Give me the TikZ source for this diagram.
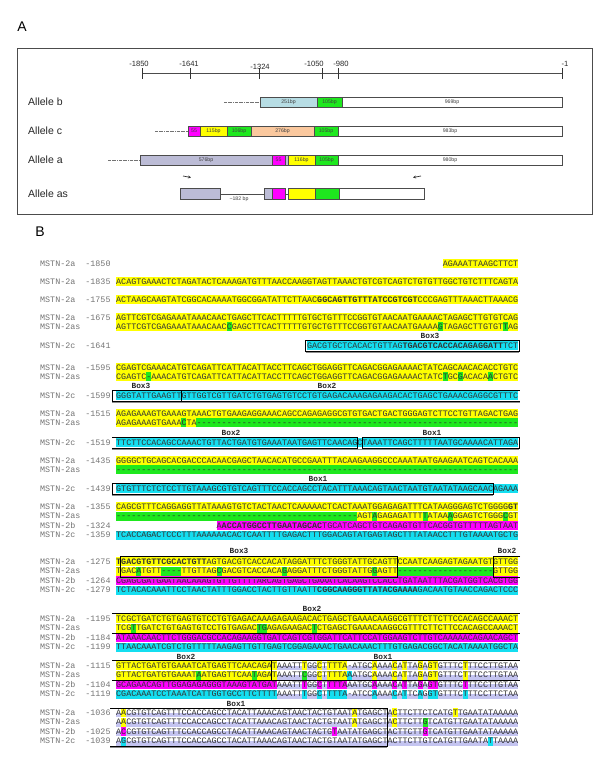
\documentclass[tikz,border=0pt]{standalone}
\usepackage{fontspec}
\usetikzlibrary{arrows.meta}
\setmainfont{Liberation Sans}
\setmonofont{Liberation Mono}
\definecolor{hy}{RGB}{255,255,0}
\definecolor{hg}{RGB}{30,232,30}
\definecolor{hc}{RGB}{20,222,240}
\definecolor{hm}{RGB}{255,0,255}
\definecolor{lav}{RGB}{188,188,214}
\definecolor{lavu}{RGB}{196,196,240}
\definecolor{lblue}{RGB}{183,221,228}
\definecolor{peach}{RGB}{250,200,158}
\newcounter{nn}
\newcommand\seqf{\ttfamily\fontsize{8.375}{9}\selectfont}
\newcommand\hlx[4]{\fill[#4] ({116+(#2-1)*5.025},{#1-4.7}) rectangle ({116+#3*5.025},{#1+4.3});}
\newcommand\hlp[3]{\foreach \p in {#3} {\hlx{#1}{\p}{\p}{#2}}}
\newcommand\ulband[3]{\fill[lavu] ({116+(#2-1)*5.025},{#1-0.5}) rectangle ({116+#3*5.025},{#1+4.3});}
\newcommand\sq[3]{\stepcounter{nn}\node[seqn] (s\arabic{nn}) at ({116+(#2-1)*5.025},{#1+2.5}) {#3};}
\newcommand\lab[3]{\stepcounter{nn}\node[labn] (l\arabic{nn}) at (40,{#1+2.5}) {#2};\stepcounter{nn}\node[labn] (m\arabic{nn}) at (85.2,{#1+2.5}) {#3};}
\newcommand\boxlab[3]{\stepcounter{nn}\node[boxl] (b\arabic{nn}) at (#2,#1) {#3};}
\newcommand\segbar[6]{\stepcounter{nn}\draw[bord,fill=#4] (#1,{#3-#5}) rectangle (#2,{#3+#5});\node[barl] (r\arabic{nn}) at ({(#1+#2)/2},#3) {#6};}
\begin{document}
\begin{tikzpicture}[x=1pt,y=-1pt,
  seqn/.style={anchor=base west,inner sep=0,font=\seqf,text=black!80},
  labn/.style={anchor=base west,inner sep=0,font=\seqf,text=black!55},
  boxl/.style={inner sep=0,font=\ttfamily\bfseries\fontsize{7.8}{8}\selectfont,text=black!85},
  bord/.style={draw=black!70,line width=0.6pt},
  barl/.style={inner sep=0,font=\fontsize{5.2}{5.5}\selectfont,text=black!75},
  allele/.style={anchor=west,inner sep=0,font=\fontsize{10.5}{11}\selectfont,text=black!85},
  tickl/.style={inner sep=0,font=\fontsize{7.6}{8}\selectfont,text=black!85},
  lead/.style={black!55,densely dash dot,line width=0.5pt},
  bx/.style={black,line width=0.7pt},
  bxs/.style={black!45,line width=1pt}]
\useasboundingbox (0,0) rectangle (600,761);
% ---------------- Panel A ----------------
\node[font=\fontsize{14}{14}\selectfont] (lA) at (22,27) {A};
\draw[black!70,line width=0.8pt] (17,48) rectangle (592,214);
\draw[black!70,line width=1pt] (142,73) -- (562,73);
\foreach \t in {142,190,259,322,338,562} {\draw[black!80,line width=0.8pt] (\t,68) -- (\t,79);}
\node[tickl] (t1) at (139,64) {-1850};
\node[tickl] (t2) at (189,64) {-1641};
\node[tickl] (t3) at (260,67) {-1324};
\node[tickl] (t4) at (314,64) {-1050};
\node[tickl] (t5) at (341,64) {-980};
\node[tickl] (t6) at (565,64) {-1};
\node[allele] (ab) at (28,102) {Allele b};
\node[allele] (ac) at (28,131) {Allele c};
\node[allele] (aa) at (28,160) {Allele a};
\node[allele] (aas) at (28,194) {Allele as};
% allele b
\draw[lead] (224,102) -- (259,102);
\segbar{260}{317}{102}{lblue}{5}{251bp}
\segbar{317}{342}{102}{hg}{5}{105bp}
\segbar{342}{562}{102}{white}{5}{969bp}
% allele c
\draw[lead] (155,131) -- (188,131);
\segbar{188}{200}{131}{hm}{5}{55}
\segbar{200}{227}{131}{hy}{5}{115bp}
\segbar{227}{251}{131}{hg}{5}{106bp}
\segbar{251}{314}{131}{peach}{5}{276bp}
\segbar{314}{338}{131}{hg}{5}{105bp}
\segbar{338}{562}{131}{white}{5}{983bp}
% allele a
\draw[lead] (108,160) -- (140,160);
\segbar{140}{272}{160}{lav}{5}{576bp}
\segbar{272}{285}{160}{hm}{5}{55}
\segbar{285}{288}{160}{lav}{5}{}
\segbar{288}{315}{160}{hy}{5}{116bp}
\segbar{315}{338}{160}{hg}{5}{105bp}
\segbar{338}{562}{160}{white}{5}{980bp}
% allele as
\coordinate (ar1a) at (183,176); \coordinate (ar1b) at (191,177.5);
\coordinate (ar2a) at (421,176); \coordinate (ar2b) at (413,177.5);
\draw[black!80,line width=0.7pt,-{Stealth[length=3pt,width=3pt]}] (ar1a) -- (ar1b);
\draw[black!80,line width=0.7pt,-{Stealth[length=3pt,width=3pt]}] (ar2a) -- (ar2b);
\draw[black!70,line width=0.8pt] (220,194) -- (264,194);
\draw[black!70,line width=0.8pt] (285,194) -- (288,194);
\segbar{180}{220}{194}{lav}{5.5}{}
\segbar{264}{272}{194}{lav}{5.5}{}
\segbar{272}{285}{194}{hm}{5.5}{}
\segbar{288}{315}{194}{hy}{5.5}{}
\segbar{315}{339}{194}{hg}{5.5}{}
\segbar{339}{424}{194}{white}{5.5}{}
\node[barl] (n182) at (239,199.5) {\textasciitilde182 bp};
% ---------------- Panel B ----------------
\node[font=\fontsize{14}{14}\selectfont] (lB) at (40,232) {B};
% highlights
\hlx{264}{66}{80}{hy}
\hlx{282}{1}{80}{hy}
\hlx{300}{1}{80}{hy}
\hlx{318}{1}{80}{hy}
\hlx{327}{1}{80}{hy}\hlp{327}{hg}{23,65,78}
\hlx{346}{39}{80}{hc}
\hlx{368}{1}{80}{hy}
\hlx{377}{1}{80}{hy}\hlp{377}{hg}{7,66,69,75}
\hlx{396}{1}{80}{hc}
\hlx{414}{1}{80}{hy}
\hlx{423}{1}{16}{hy}\hlp{423}{hg}{14}\hlx{423}{17}{80}{hg}
\hlx{443}{1}{80}{hc}
\hlx{461}{1}{80}{hy}
\hlx{470}{1}{80}{hg}
\hlx{489}{1}{80}{hc}
\hlx{507}{1}{80}{hy}
\hlx{516.4}{1}{48}{hg}\hlx{516.4}{49}{80}{hy}\hlp{516.4}{hg}{52,62,67,78}
\hlx{525.8}{21}{80}{hm}
\hlx{535.2}{1}{80}{hc}
\hlx{562}{1}{80}{hy}
\hlx{571.4}{1}{80}{hy}\hlp{571.4}{hg}{5,21,34,52}\hlx{571.4}{10}{13}{hg}\hlx{571.4}{57}{75}{hg}
\hlx{580.8}{1}{80}{hm}
\hlx{590.2}{1}{80}{hc}
\hlx{619}{1}{80}{hy}
\hlx{628.4}{1}{80}{hy}\hlp{628.4}{hg}{4,29,30,40}
\hlx{637.8}{1}{80}{hm}
\hlx{647.2}{1}{80}{hc}
\hlx{666}{1}{31}{hy}\ulband{666}{32}{80}\hlp{666}{hy}{32,38,41,43,44,45,46,52,56,58,61,63,64,70}
\hlx{675.4}{1}{31}{hy}\hlp{675.4}{hg}{17,28}\ulband{675.4}{32}{80}\hlp{675.4}{hy}{32,41,43,44,45,46,52,56,58,61,63,64,70}\hlp{675.4}{hg}{38}\hlp{675.4}{hc}{47}
\hlx{684.8}{1}{31}{hm}\ulband{684.8}{32}{80}\hlp{684.8}{hm}{32,38,41,43,44,45,46,52,56,58,61,63,64,70}
\hlx{694.2}{1}{31}{hc}\ulband{694.2}{32}{80}\hlp{694.2}{hc}{32,38,41,43,44,45,46,52,56,58,61,63,64,70}
\ulband{713}{1}{80}\hlp{713}{hy}{2,48,56,68}
\ulband{722.4}{1}{80}\hlp{722.4}{hy}{2,48,56}\hlp{722.4}{hg}{62}
\ulband{731.8}{1}{80}\hlp{731.8}{hm}{2,44,62}
\ulband{741.2}{1}{80}\hlp{741.2}{hc}{2,75}
% labels
\lab{264}{MSTN-2a}{-1850}
\lab{282}{MSTN-2a}{-1835}
\lab{300}{MSTN-2a}{-1755}
\lab{318}{MSTN-2a}{-1675}
\lab{327}{MSTN-2as}{}
\lab{346}{MSTN-2c}{-1641}
\lab{368}{MSTN-2a}{-1595}
\lab{377}{MSTN-2as}{}
\lab{396}{MSTN-2c}{-1599}
\lab{414}{MSTN-2a}{-1515}
\lab{423}{MSTN-2as}{}
\lab{443}{MSTN-2c}{-1519}
\lab{461}{MSTN-2a}{-1435}
\lab{470}{MSTN-2as}{}
\lab{489}{MSTN-2c}{-1439}
\lab{507}{MSTN-2a}{-1355}
\lab{516.4}{MSTN-2as}{}
\lab{525.8}{MSTN-2b}{-1324}
\lab{535.2}{MSTN-2c}{-1359}
\lab{562}{MSTN-2a}{-1275}
\lab{571.4}{MSTN-2as}{}
\lab{580.8}{MSTN-2b}{-1264}
\lab{590.2}{MSTN-2c}{-1279}
\lab{619}{MSTN-2a}{-1195}
\lab{628.4}{MSTN-2as}{}
\lab{637.8}{MSTN-2b}{-1184}
\lab{647.2}{MSTN-2c}{-1199}
\lab{666}{MSTN-2a}{-1115}
\lab{675.4}{MSTN-2as}{}
\lab{684.8}{MSTN-2b}{-1104}
\lab{694.2}{MSTN-2c}{-1119}
\lab{713}{MSTN-2a}{-1036}
\lab{722.4}{MSTN-2as}{}
\lab{731.8}{MSTN-2b}{-1025}
\lab{741.2}{MSTN-2c}{-1039}
% sequences
\sq{264}{66}{AGAAATTAAGCTTCT}
\sq{282}{1}{ACAGTGAAACTCTAGATACTCAAAGATGTTTAACCAAGGTAGTTAAACTGTCGTCAGTCTGTGTTGGCTGTCTTTCAGTA}
\sq{300}{1}{ACTAAGCAAGTATCGGCACAAAATGGCGGATATTCTTAAC\textbf{GGCAGTTGTTTATCCGTCGT}CCCGAGTTTAAACTTAAACG}
\sq{318}{1}{AGTTCGTCGAGAAATAAACAACTGAGCTTCACTTTTTGTGCTGTTTCCGGTGTAACAATGAAAACTAGAGCTTGTGTCAG}
\sq{327}{1}{AGTTCGTCGAGAAATAAACAACCGAGCTTCACTTTTTGTGCTGTTTCCGGTGTAACAATGAAAAGTAGAGCTTGTGTTAG}
\sq{346}{39}{GACGTGCTCACACTGTTAG\textbf{TGACGTCACCACAGAGGATT}TCT}
\sq{368}{1}{CGAGTCGAAACATGTCAGATTCATTACATTACCTTCAGCTGGAGGTTCAGACGGAGAAAACTATCAGCAACACACCTGTC}
\sq{377}{1}{CGAGTC-AAACATGTCAGATTCATTACATTACCTTCAGCTGGAGGTTCAGACGGAGAAAACTATCTGCGACACAACTGTC}
\sq{396}{1}{GGGTATTGAAGTTGTTGGTCGTTGATCTGTGAGTGTCCTGTGAGACAAAGAGAAGACACTGAGCTGAAACGAGGCGTTTC}
\sq{414}{1}{AGAGAAAGTGAAAGTAAACTGTGAAGAGGAAACAGCCAGAGAGGCGTGTGACTGACTGGGAGTCTTCCTGTTAGACTGAG}
\sq{423}{1}{AGAGAAAGTGAAACTA----------------------------------------------------------------}
\sq{443}{1}{TTCTTCCACAGCCAAACTGTTACTGATGTGAAATAATGAGTTCAACAGCTAAATTCAGCTTTTTAATGCAAAACATTAGA}
\sq{461}{1}{GGGGCTGCAGCACGACCCACAACGAGCTAACACATGCCGAATTTACAAGAAGGCCCAAATAATGAAGAATCAGTCACAAA}
\sq{470}{1}{--------------------------------------------------------------------------------}
\sq{489}{1}{GTGTTTCTCTCCTTGTAAAGCGTGTCAGTTTCCACCAGCCTACATTTAAACAGTAACTAATGTAATATAAGCAACAGAAA}
\sq{507}{1}{CAGCGTTTCAGGAGGTTATAAAGTGTCTACTAACTCAAAAACTCACTAAATGGAGAGATTTCATAAGGGAGTCTGGGG\textbf{GT}}
\sq{516.4}{1}{------------------------------------------------AGTAGAGAGATTTTATAAAGGAGTCTGGGCGT}
\sq{525.8}{21}{A\textbf{ACCATGGCCTTGAATAGCAC}TGCATCAGCTGTCAGAGTGTTCACGGTGTTTTTAGTAAT}
\sq{535.2}{1}{TCACCAGACTCCCTTTAAAAAACACTCAATTTTGAGACTTTGGACAGTATGAGTAGCTTTATAACCTTTGTAAAATGCTG}
\sq{562}{1}{\textbf{TGACGTGTTCGCACTGTT}AGTGACGTCACCACATAGGATTTCTGGGTATTGCAGTTCCAATCAAGAGTAGAATGTGTTGG}
\sq{571.4}{1}{TGACATGTT----TTGTTAGCGACGTCACCACAGAGGATTTCTGGGTATTGGAGTT-------------------GTTGG}
\sq{580.8}{1}{CGAGCGATGAATAACAAAGTGTTGTTTTARCAGTGAGCTGAAATCACAAGTCCACCTGATAATTTACGATGGTCACGTGG}
\sq{590.2}{1}{TCTACACAAATTCCTAACTATTTGGACCTACTTGTTAATT\textbf{CGGCAAGGGTTATACGAAAA}GACAATGTAACCAGACTCCC}
\sq{619}{1}{TCGCTGATCTGTGAGTGTCCTGTGAGACAAAGAGAAGACACTGAGCTGAAACAAGGCGTTTCTTCTTCCACAGCCAAACT}
\sq{628.4}{1}{TCGTTGATCTGTGAGTGTCCTGTGAGACTGAGAGAAGACTCTGAGCTGAAACAAGGCGTTTCTTCTTCCACAGCCAAACT}
\sq{637.8}{1}{ATAAACAACTTCTGGGACGCCACAGAAGGTGATCAGTCGTGGATTCATTCCATGGAAGTCTTGTCAAAAACAGAACAGCT}
\sq{647.2}{1}{TTAACAAATCGTCTGTTTTTAAGAGTTGTTGAGTCGGAGAAACTGAACAAACTTTGTGAGACGGCTACATAAAATGGCTA}
\sq{666}{1}{GTTACTGATGTGAAATCATGAGTTCAACAGATAAATTTGGCTTTTA-ATGCAAAACATTAGAGTGTTTCTTTCCTTGTAA}
\sq{675.4}{1}{GTTACTGATGTGAAATAATGAGTTCAATAGATAAATTCGGCTTTTAAATGCAAAACATTAGAGTGTTTCTTTCCTTGTAA}
\sq{684.8}{1}{GCAGAACAGTTGGAGAGAGGGTAAAGTATGATAAATTTGGCTTTTAAATGCAAAACATTAGAGTGTTTCTTTCCTTGTAA}
\sq{694.2}{1}{CGACAAATCCTAAATCATTGGTGCCTTCTTTTAAATTTGGCTTTTA-ATCCAAAACATTCAGGTGTTTCTTTCCTTCTAA}
\sq{713}{1}{AACGTGTCAGTTTCCACCAGCCTACATTAAACAGTAACTACTGTAATATGAGCTACTTCTTCTCATGTTGAATATAAAAA}
\sq{722.4}{1}{AACGTGTCAGTTTCCACCAGCCTACATTAAACAGTAACTACTGTAATATGAGCTACTTCTTGTCATGTTGAATATAAAAA}
\sq{731.8}{1}{ACCGTGTCAGTTTCCACCAGCCTACATTAAACAGTAACTACTGTAATATGAGCTACTTCTTGTCATGTTGAATATAAAAA}
\sq{741.2}{1}{AGCGTGTCAGTTTCCACCAGCCTACATTAAACAGTAACTACTGTAATATGAGCTACTTCTTGTCATGTTGAATATTAAAA}
% boxes
% -1641
\draw[bxs] (305.5,352.5) -- (519,352.5);
\draw[bx] (305.5,340) rectangle (519,351.5);
\boxlab{336}{430}{Box3}
% -1599
\draw[bxs] (112,402.5) -- (520,402.5);
\draw[bx] (112,390) rectangle (181.3,401.5);
\draw[bx] (181.3,390) -- (520,390) (181.3,401.5) -- (520,401.5);
\boxlab{386}{141}{Box3}\boxlab{386}{327}{Box2}
% -1519
\draw[bxs] (112,449.5) -- (519,449.5);
\draw[bx] (112,437) -- (357.2,437) -- (357.2,448.5) -- (112,448.5);
\draw[bx] (362.2,437) rectangle (519,448.5);
\boxlab{433}{231}{Box2}\boxlab{433}{432}{Box1}
% -1439
\draw[bxs] (112,495.5) -- (492.9,495.5);
\draw[bx] (112,483) rectangle (492.9,494.5);
\boxlab{479}{318}{Box1}
% -1275
\draw[bxs] (119,578) -- (397.4,578);
\draw[bx] (120,556) rectangle (397.4,577);
\draw[bx] (520,556) -- (492.9,556) -- (492.9,577) -- (520,577);
\boxlab{551}{239}{Box3}\boxlab{551}{507}{Box2}
% -1195
\draw[bx] (112,613.7) -- (520,613.7) (112,633.6) -- (520,633.6);
\boxlab{609}{312}{Box2}
% -1115
\draw[bx] (112,660.7) -- (520,660.7) (112,680.6) -- (520,680.6);
\draw[bx] (271.8,660.7) -- (271.8,680.6);
\boxlab{656.5}{186}{Box2}\boxlab{656.5}{383}{Box1}
% -1036
\draw[bxs] (110,747.5) -- (387,747.5);
\draw[bx] (110,708.5) -- (387,708.5) -- (387,746.5) -- (110,746.5);
\boxlab{704}{236}{Box1}
\end{tikzpicture}
\end{document}
